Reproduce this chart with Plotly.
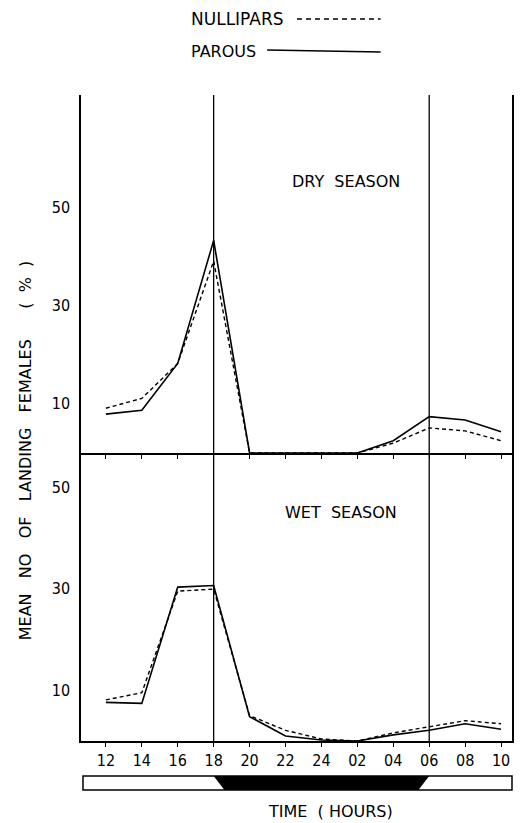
import plotly.graph_objects as go

# ---------------- data ----------------
hours = ["12", "14", "16", "18", "20", "22", "24", "02", "04", "06", "08", "10"]
dry_nullipars = [9.1, 11.1, 18.2, 39.0, 0, 0, 0, 0, 2.0, 5.1, 4.5, 2.5]
dry_parous = [7.9, 8.7, 18.2, 43.2, 0, 0, 0, 0, 2.5, 7.4, 6.7, 4.3]
wet_nullipars = [8.1, 9.5, 29.5, 29.9, 5.0, 2.1, 0.4, 0, 1.6, 2.8, 4.0, 3.4]
wet_parous = [7.6, 7.4, 30.3, 30.6, 4.8, 1.0, 0.2, 0, 1.2, 2.1, 3.4, 2.3]
y_ticks = [10, 30, 50]
night_start, night_end = "18", "06"
twilight = 0.3  # slant of dark band (in hour-steps)

# ---------------- geometry helpers ----------------
W, H = 522, 823
L, T, R, B = 81, 95, 514, 790
PW, PH = R - L, B - T


def pxx(x):
    return (x - L) / PW


def pxy(y):
    return (B - y) / PH


xs = list(range(len(hours)))
x_range = [-(106 - L) / 36.09, len(hours) - 1 + (R - 503) / 36.09]

FONT = "Liberation Sans Narrow, DejaVu Sans Condensed, DejaVu Sans, sans-serif"
TFONT = "DejaVu Sans, sans-serif"

fig = go.Figure()

# top panel (dry season)
fig.add_trace(go.Scatter(x=xs, y=dry_nullipars, xaxis="x2", yaxis="y", mode="lines",
                         line=dict(color="black", width=1.4, dash="4px,3px"), showlegend=False))
fig.add_trace(go.Scatter(x=xs, y=dry_parous, xaxis="x2", yaxis="y", mode="lines",
                         line=dict(color="black", width=1.6), showlegend=False))
# bottom panel (wet season)
fig.add_trace(go.Scatter(x=xs, y=wet_nullipars, xaxis="x", yaxis="y2", mode="lines",
                         line=dict(color="black", width=1.4, dash="4px,3px"), showlegend=False))
fig.add_trace(go.Scatter(x=xs, y=wet_parous, xaxis="x", yaxis="y2", mode="lines",
                         line=dict(color="black", width=1.6), showlegend=False))

# night band in the time bar
i0 = hours.index(night_start)
i1 = hours.index(night_end)
fig.add_trace(go.Scatter(x=[i0, i1, i1 - twilight, i0 + twilight], y=[1, 1, 0, 0],
                         xaxis="x3", yaxis="y3", mode="lines", fill="toself",
                         fillcolor="black", line=dict(width=0, color="black"),
                         showlegend=False, hoverinfo="skip"))

axis_common = dict(showgrid=False, zeroline=False, showline=True, linecolor="black", linewidth=1.5)

yb_top = pxy(453)
yb_bot = pxy(741)
fig.update_layout(
    width=W, height=H,
    margin=dict(l=L, r=W - R, t=T, b=H - B),
    paper_bgcolor="white", plot_bgcolor="white",
    xaxis=dict(domain=[0, 1], anchor="y2", range=x_range, tickmode="array", tickvals=xs,
               ticktext=hours, ticks="outside", ticklen=4, tickwidth=1.3, tickcolor="black",
               tickfont=dict(family=FONT, size=16, color="black"), mirror=False, **axis_common),
    xaxis2=dict(domain=[0, 1], anchor="y", matches="x", range=x_range, tickmode="array",
                tickvals=xs, showticklabels=False, ticks="outside", ticklen=4, tickwidth=1.3,
                tickcolor="black", mirror=False, **axis_common),
    xaxis3=dict(domain=[0, 1], anchor="y3", matches="x", range=x_range, visible=False),
    yaxis=dict(domain=[yb_top, 1], anchor="x2", range=[0, (453 - 95) / 4.92],
               tickmode="array", tickvals=y_ticks, ticks="", mirror=True,
               ticklabelstandoff=6, tickfont=dict(family=FONT, size=16, color="black"),
               **axis_common),
    yaxis2=dict(domain=[yb_bot, yb_top], anchor="x", range=[0, (741 - 453) / 5.08],
                tickmode="array", tickvals=y_ticks, ticks="", mirror=True,
                ticklabelstandoff=6, tickfont=dict(family=FONT, size=16, color="black"),
                **axis_common),
    yaxis3=dict(domain=[0, pxy(776)], anchor="x3", range=[0, 1], visible=False),
)

shapes = []
# vertical dusk/dawn lines
for h in (night_start, night_end):
    shapes.append(dict(type="line", xref="x", yref="paper", x0=hours.index(h), x1=hours.index(h),
                       y0=yb_bot, y1=1, line=dict(color="black", width=1.3)))
# time bar outline
shapes.append(dict(type="rect", xref="paper", yref="paper", x0=pxx(83), x1=1, y0=0,
                   y1=pxy(776), line=dict(color="black", width=1.5), fillcolor="rgba(0,0,0,0)"))
# legend samples
shapes.append(dict(type="line", xref="paper", yref="paper", x0=pxx(298), x1=pxx(382),
                   y0=pxy(19), y1=pxy(19), line=dict(color="black", width=1.5, dash="5px,4px")))
shapes.append(dict(type="line", xref="paper", yref="paper", x0=pxx(268), x1=pxx(382),
                   y0=pxy(50), y1=pxy(52), line=dict(color="black", width=1.6)))
fig.update_layout(shapes=shapes)

ann = []


def text(t, x, y, size=16, xanchor="center", angle=0, family=TFONT):
    ann.append(dict(text=t, x=pxx(x), y=pxy(y), xref="paper", yref="paper", showarrow=False,
                    xanchor=xanchor, yanchor="middle", textangle=angle,
                    font=dict(family=family, size=size, color="black")))


text("NULLIPARS", 189, 19, size=17, xanchor="left")
text("PAROUS", 189, 51, size=16, xanchor="left")
text("DRY  SEASON", 347, 181, size=16)
text("WET  SEASON", 342, 512, size=16)
text("TIME  ( HOURS)", 332, 811, size=16)
text("MEAN   NO   OF   LANDING   FEMALES      (  %  )", 26, 450, size=16, angle=-90)
fig.update_layout(annotations=ann)

fig.write_html("out.html")
